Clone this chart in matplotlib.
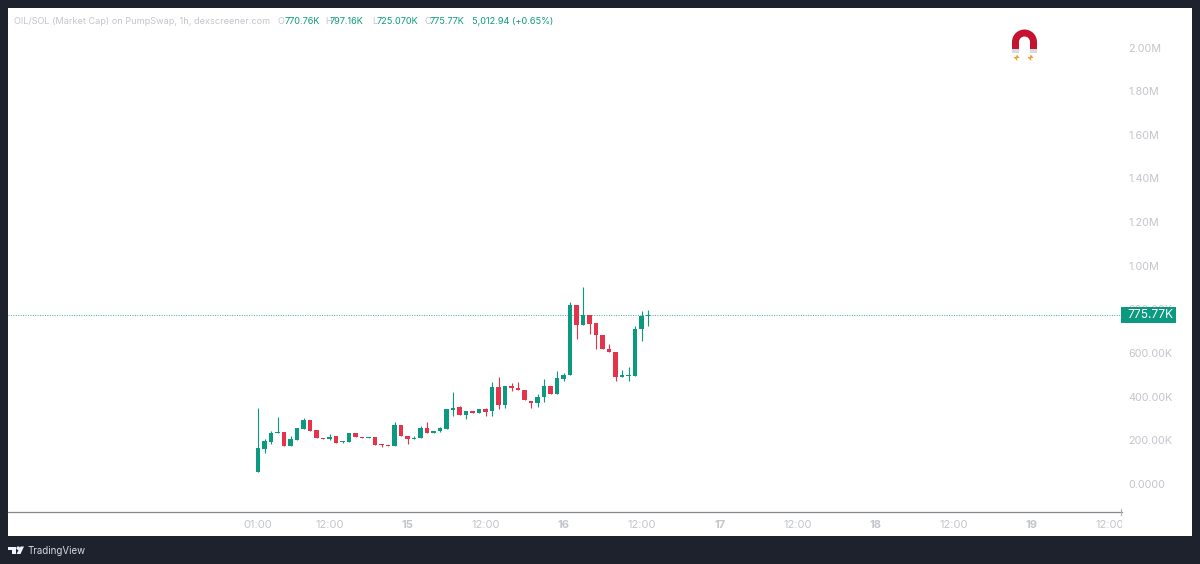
import numpy as np
import matplotlib
matplotlib.use("Agg")
import matplotlib.pyplot as plt
from matplotlib.patches import Rectangle, Wedge, Polygon, Circle
from matplotlib.transforms import Bbox

plt.rcParams['font.family'] = ['Inter', 'DejaVu Sans']

# market cap per candle, in thousands
opens = [56.5, 160, 192, 232, 238, 176, 202, 253, 292, 246, 212, 206, 218, 194, 192, 235, 217, 209, 217, 182,
         179, 176, 270, 221, 206, 209, 255, 232, 243, 253, 341, 351, 316, 336, 327, 342, 333, 444, 362, 449,
         441, 431, 382, 371, 397, 447, 411, 481, 501, 819, 728, 776, 736, 683, 618, 605, 489, 496, 495, 709,
         770.76]
closes = [163, 197, 235, 238, 176, 205, 255, 292, 243, 211, 205, 215, 189, 197, 234, 214, 209, 215, 180, 177,
          176, 270, 218, 205, 209, 255, 232, 244, 255, 342, 348, 315, 334, 327, 342, 331, 444, 360, 449, 438,
          429, 383, 371, 399, 447, 411, 484, 501, 819, 728, 774, 735, 683, 617, 603, 490, 498, 499, 712, 771,
          775.77]
highs = [350, 206, 244, 307, 238, 220, 255, 304, 292, 246, 212, 229, 218, 197, 234, 235, 217, 215, 217, 182,
         179, 286, 270, 221, 221, 267, 282, 244, 260, 342, 420, 357, 334, 336, 342, 348, 469, 492, 449, 464,
         469, 431, 382, 412, 483, 447, 518, 507, 835, 819, 904, 776, 736, 683, 641, 605, 522, 538, 724, 794,
         797.16]
lows = [56, 143, 183, 232, 176, 176, 202, 253, 243, 211, 205, 203, 189, 188, 192, 214, 209, 209, 180, 168,
        176, 176, 218, 183, 206, 209, 232, 232, 237, 253, 313, 315, 296, 327, 327, 313, 313, 345, 347, 428,
        429, 383, 350, 354, 374, 411, 411, 472, 501, 664, 728, 687, 617, 617, 603, 472, 489, 472, 495, 655,
        725.07]

last_price = 775.77
price_ticks = [0, 200, 400, 600, 800, 1000, 1200, 1400, 1600, 1800, 2000]
price_labels = ['0.0000', '200.00K', '400.00K', '600.00K', '800.00K', '1.00M', '1.20M', '1.40M', '1.60M', '1.80M', '2.00M']
time_ticks = [0, 11, 23, 35, 47, 59, 71, 83, 95, 107, 119, 131]
time_labels = ['01:00', '12:00', '15', '12:00', '16', '12:00', '17', '12:00', '18', '12:00', '19', '12:00']

GREEN = '#0b9a7f'
RED = '#e4344b'
DARK = '#1e222d'
GREY = '#c3c5cc'

W, H = 1200, 564
fig = plt.figure(figsize=(12, 5.64), dpi=100, facecolor=DARK)

# white pane behind everything
fig.add_artist(Rectangle((8 / W, 1 - 536 / H), 1184 / W, 528 / H, transform=fig.transFigure,
                         facecolor='white', edgecolor='none', zorder=-5))

ax = fig.add_axes([8 / W, 1 - 512 / H, 1114 / W, 504 / H])
ax.patch.set_alpha(0)
ax.set_xlim(-38.46, 132.9)
ax.set_ylim(-128.3, 2181)
for s in ax.spines.values():
    s.set_visible(False)
ax.spines['bottom'].set_visible(True)
ax.spines['bottom'].set_color('#85888e')
ax.spines['bottom'].set_linewidth(0.9)

# candles
hours = np.arange(len(opens))
o = np.array(opens)
c = np.array(closes)
colors = [GREEN if up else RED for up in c >= o]
ax.vlines(hours, lows, highs, colors=colors, linewidth=0.8, zorder=2)
ax.bar(hours, np.maximum(np.abs(c - o), 4), bottom=np.minimum(o, c), width=0.74, color=colors, zorder=3)

ax.axhline(last_price, color=GREEN, linewidth=0.7, linestyle=(0, (1, 1.5)), alpha=0.8, zorder=1)

ax.yaxis.tick_right()
ax.set_yticks(price_ticks)
ax.set_yticklabels(price_labels, ha='left')
ax.tick_params(axis='y', length=0, pad=4.3, labelsize=7.8, labelcolor=GREY)
ax.set_xticks(time_ticks)
ax.set_xticklabels(time_labels)
ax.tick_params(axis='x', length=0, pad=5.5, labelsize=8.0, labelcolor=GREY)
for lab, txt in zip(ax.get_xticklabels(), time_labels):
    if len(txt) == 2:
        lab.set_fontweight('bold')

# last time label gets cut by the price scale
cut = ax.get_xticklabels()[-1]
cut.set_clip_box(Bbox([[0, 0], [1122, H]]))
cut.set_clip_on(True)

# overlay in pixel coords for header, badge, magnet and logo
top = fig.add_axes([0, 0, 1, 1], zorder=5)
top.set_xlim(0, W)
top.set_ylim(H, 0)
top.axis('off')

head = [(14, 'OIL/SOL (Market Cap) on PumpSwap, 1h, dexscreener.com', GREY),
        (277, 'O', GREY), (285, '770.76K', GREEN),
        (325, 'H', GREY), (330, '797.16K', GREEN),
        (372.5, 'L', GREY), (377, '725.070K', GREEN),
        (424.5, 'C', GREY), (430, '775.77K', GREEN),
        (471.5, '5,012.94 (+0.65%)', GREEN)]
for x, txt, col in head:
    top.text(x, 21.5, txt, color=col, fontsize=6.6, va='center', ha='left')

top.add_patch(Rectangle((1121, 306.5), 55, 16.5, facecolor=GREEN, edgecolor='none'))
top.text(1150, 315, '775.77K', color='white', fontsize=8.6, va='center', ha='center')

# small tick where the two axes meet
top.plot([1121, 1121], [509, 515], color='#b0b2b8', linewidth=0.8)

# magnet
top.add_patch(Wedge((1024.5, 42), 12.5, 180, 360, width=7, facecolor='#c4122f', edgecolor='none'))
top.add_patch(Rectangle((1012, 41), 7, 8, facecolor='#c4122f', edgecolor='none'))
top.add_patch(Rectangle((1030, 41), 7, 8, facecolor='#c4122f', edgecolor='none'))
top.add_patch(Rectangle((1012, 49), 7, 4, facecolor='#d5dbe3', edgecolor='none'))
top.add_patch(Rectangle((1030, 49), 7, 4, facecolor='#d5dbe3', edgecolor='none'))
for cx in (1016.5, 1030.5):
    top.add_patch(Polygon([(cx + 0.5, 54.5), (cx + 3, 58), (cx + 0.7, 58), (cx + 0.8, 61), (cx - 3, 57), (cx - 0.7, 57)],
                          facecolor='#f0a030', edgecolor='none'))

# TradingView mark
top.add_patch(Polygon([(8, 546.5), (16, 546.5), (16, 554), (12, 554), (12, 550), (8, 550)],
                      facecolor='#f0f3fa', edgecolor='none'))
top.add_patch(Circle((18.2, 548.2), 1.8, facecolor='#f0f3fa', edgecolor='none'))
top.add_patch(Polygon([(20.5, 546.5), (24, 546.5), (20.5, 554), (16.5, 554)],
                      facecolor='#f0f3fa', edgecolor='none'))
top.text(27, 550.5, 'TradingView', color='#d8dae0', fontsize=7.0, va='center', ha='left')

fig.savefig('out.png', dpi=100, facecolor=DARK)
